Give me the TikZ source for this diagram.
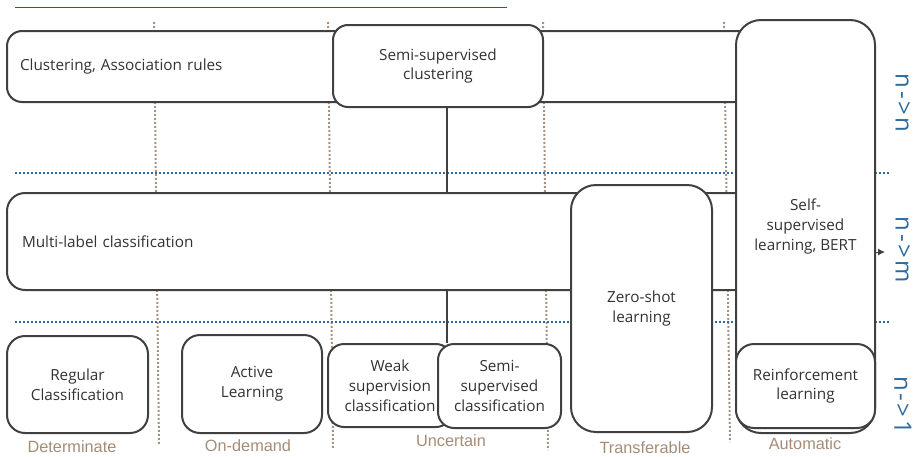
\documentclass[tikz,border=0pt]{standalone}
\usepackage{fontspec}
\setmainfont{Open Sans}
\newfontfamily\labfont{Liberation Sans}
\usetikzlibrary{arrows.meta}
\definecolor{boxline}{HTML}{404040}
\definecolor{colline}{HTML}{A8927F}
\definecolor{rowline}{HTML}{2E6A9C}
\definecolor{coltext}{HTML}{A58C77}
\definecolor{rulered}{RGB}{190,30,45}
\tikzset{
  box/.style={draw=boxline, line width=2pt, fill=white, inner sep=0pt,
    font=\fontsize{15.3}{19.8}\selectfont, text=black!80, align=center},
  colsep/.style={draw=colline, line width=2pt, dash pattern=on 2pt off 2pt},
  rowsep/.style={draw=rowline, line width=2pt, dash pattern=on 2pt off 2pt},
  collabel/.style={text=coltext, font=\labfont\fontsize{16.3}{18}\selectfont, inner sep=0pt},
  rowlabel/.style={text=rowline, font=\fontsize{24}{26}\selectfont, rotate=-90, inner sep=0pt},
  link/.style={draw=boxline, line width=2pt},
  redbar/.style={fill=rulered, draw=none}
}
\begin{document}
\begin{tikzpicture}[x=1pt,y=-1pt]
\useasboundingbox (0,0) rectangle (917,456);
% top rule
\coordinate (r1) at (15,6.6);
\coordinate (r2) at (507,8.4);
\fill[redbar] (r1) rectangle (r2);
% column separators
\coordinate (c1a) at (154,22); \coordinate (c1b) at (159,445);
\coordinate (c2a) at (328,22); \coordinate (c2b) at (333,448);
\coordinate (c3a) at (543,22); \coordinate (c3b) at (548,450);
\coordinate (c4a) at (724,22); \coordinate (c4b) at (730,442);
\draw[colsep] (c1a) -- (c1b);
\draw[colsep] (c2a) -- (c2b);
\draw[colsep] (c3a) -- (c3b);
\draw[colsep] (c4a) -- (c4b);
% row separators
\coordinate (h1a) at (15,173); \coordinate (h1b) at (890,173);
\coordinate (h2a) at (15,321.5); \coordinate (h2b) at (890,321.5);
\draw[rowsep] (h1a) -- (h1b);
\draw[rowsep] (h2a) -- (h2b);
% boxes, top row
\node[box, rounded corners=15pt, minimum width=753pt, minimum height=71pt,
  text width=727pt, align=left] (clus) at (383.5,66.5) {Clustering, Association rules};
\node[box, rounded corners=15pt, minimum width=210pt, minimum height=82pt] (sscl) at (438,66) {Semi-supervised\\clustering};
% bottom row nodes needed for link
\node[box, rounded corners=16pt, minimum width=124pt, minimum height=83pt] (weak) at (390,385.5) {Weak\\supervision\\classification};
\node[box, rounded corners=16pt, minimum width=123pt, minimum height=84pt] (sscla) at (499.5,386) {Semi-\\supervised\\classification};
% link between semi-supervised boxes
\draw[link] ([xshift=9pt]sscl.south) -- ([xshift=9pt]sscl.south |- sscla.north);
% middle row
\node[box, rounded corners=18pt, minimum width=753pt, minimum height=97pt,
  text width=723pt, align=left] (multi) at (383.5,241.5) {Multi-label classification};
\node[box, rounded corners=25pt, minimum width=141pt, minimum height=247pt] (zero) at (641.5,308.5) {Zero-shot\\learning};
\node[box, rounded corners=25pt, minimum width=139pt, minimum height=413pt] (self) at (805.5,226.5) {Self-\\supervised\\learning, BERT};
\node[box, rounded corners=18pt, minimum width=139pt, minimum height=84pt] (reinf) at (805.5,386) {Reinforcement\\learning};
\node[box, rounded corners=18pt, minimum width=141pt, minimum height=97pt] (reg) at (77.5,384.5) {Regular\\Classification};
\node[box, rounded corners=18pt, minimum width=140pt, minimum height=98pt] (act) at (252,384) {Active\\Learning};
% arrow tip on the right of the self-supervised box
\coordinate (arr) at (885,252);
\draw[draw=boxline, line width=1pt, -{Latex[length=7pt,width=7pt]}] (self.east |- arr) -- (arr);
% row labels
\node[rowlabel] (lnn) at (903,103) {n\kern3pt{-}\kern2pt{>}\kern3pt n};
\node[rowlabel] (lnm) at (903,250) {n\kern3pt{-}\kern2pt{>}\kern3pt m};
\node[rowlabel] (ln1) at (903,405) {n\kern3pt{-}\kern2pt{>}\kern3pt 1};
% column labels
\node[collabel] (ldet) at (72,447) {Determinate};
\node[collabel] (lond) at (248,446) {On-demand};
\node[collabel] (lunc) at (451,441) {Uncertain};
\node[collabel] (ltra) at (645,447.5) {Transferable};
\node[collabel] (laut) at (805,444) {Automatic};
\end{tikzpicture}
\end{document}
